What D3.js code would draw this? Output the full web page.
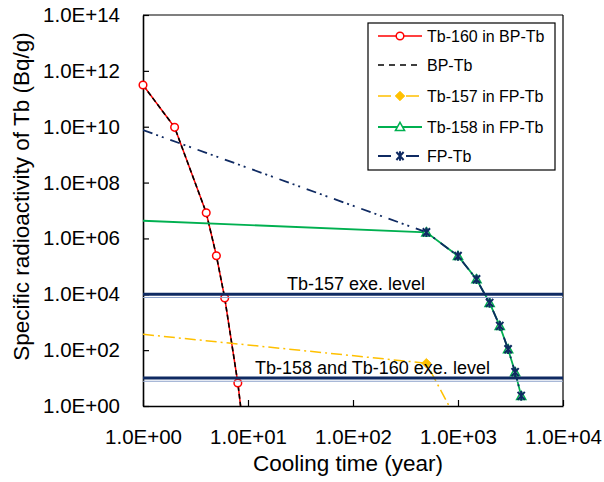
<!DOCTYPE html>
<html>
<head>
<meta charset="utf-8">
<script src="https://cdn.jsdelivr.net/npm/d3@7"></script>
<style>
  html, body { margin: 0; padding: 0; background: #fff; }
  svg { display: block; font-family: "Liberation Sans", Arial, sans-serif; }
</style>
</head>
<body>
<svg id="chart" width="604" height="482"></svg>
<script>
// Cooling time (years) and specific radioactivity (Bq/g) of terbium
const bpYears = [1, 2, 4, 5, 6, 8, 10];
const tb160InBP = [3.1e11, 9.5e9, 8.3e6, 2.4e5, 7.4e3, 6.7, 0.006];
const bpTb = [3.1e11, 9.5e9, 8.3e6, 2.4e5, 7.4e3, 6.7, 0.006];

const tb157Years = [1, 500, 1000, 1500];
const tb157InFP = [370, 34, 0.25, 0.002];

const fpYears = [1, 500, 1000, 1500, 2000, 2500, 3000, 3500, 4000];
const tb158InFP = [4.3e6, 1.66e6, 2.35e5, 3.45e4, 4.9e3, 740, 108, 16.3, 2.3];
const fpTb = [7.6e9, 1.66e6, 2.35e5, 3.45e4, 4.9e3, 740, 108, 16.3, 2.3];

// Exemption levels (Bq/g)
const exemptionLevels = [1e4, 1e1];
const exemptionLabels = ["Tb-157 exe. level", "Tb-158 and Tb-160 exe. level"];

const xTicks = [1e0, 1e1, 1e2, 1e3, 1e4];
const yTicks = [1e0, 1e2, 1e4, 1e6, 1e8, 1e10, 1e12, 1e14];

const legendLabels = ["Tb-160 in BP-Tb", "BP-Tb", "Tb-157 in FP-Tb", "Tb-158 in FP-Tb", "FP-Tb"];

const svg = d3.select("#chart");
const margin = { left: 143, right: 41, top: 15, bottom: 76 };
const W = 604, H = 482;
const pw = W - margin.left - margin.right;
const ph = H - margin.top - margin.bottom;

const x = d3.scaleLog().domain([1, 1e4]).range([0, pw]);
const y = d3.scaleLog().domain([1, 1e14]).range([ph, 0]);

const fmt = v => "1.0E+" + String(Math.round(Math.log10(v))).padStart(2, "0");

const g = svg.append("g").attr("transform", `translate(${margin.left},${margin.top})`);

const defs = svg.append("defs");
defs.append("clipPath").attr("id", "plotClip")
  .append("rect").attr("x", 0).attr("y", 0).attr("width", pw).attr("height", ph);
defs.append("clipPath").attr("id", "markClip")
  .append("rect").attr("x", -8).attr("y", -8).attr("width", pw + 16).attr("height", ph + 8);

// frame: top and right edges
g.append("line").attr("x1", 0).attr("x2", pw).attr("y1", 0).attr("y2", 0)
  .attr("stroke", "#000").attr("stroke-width", 1.2);
g.append("line").attr("x1", pw).attr("x2", pw).attr("y1", 0).attr("y2", ph)
  .attr("stroke", "#000").attr("stroke-width", 1.2);

// axes with inward ticks
const xAxis = d3.axisBottom(x).tickValues(xTicks).tickFormat(fmt)
  .tickSizeInner(-6).tickSizeOuter(0).tickPadding(23);
const yAxis = d3.axisLeft(y).tickValues(yTicks).tickFormat(fmt)
  .tickSizeInner(-6).tickSizeOuter(0).tickPadding(23);

const gx = g.append("g").attr("transform", `translate(0,${ph})`).call(xAxis);
const gy = g.append("g").call(yAxis);
[gx, gy].forEach(a => {
  a.select(".domain").attr("stroke", "#000").attr("stroke-width", 1.6);
  a.selectAll(".tick line").attr("stroke", "#000").attr("stroke-width", 1.2);
  a.selectAll(".tick text").attr("fill", "#000")
    .style("font-size", "20.5px").style("font-family", '"Liberation Sans", Arial, sans-serif');
});

// axis titles
svg.append("text").attr("x", margin.left + pw / 2 - 5).attr("y", 471)
  .attr("text-anchor", "middle").style("font-size", "22.5px").attr("fill", "#000")
  .text("Cooling time (year)");
svg.append("text").attr("transform", "translate(28.5,196.5) rotate(-90)")
  .attr("text-anchor", "middle").style("font-size", "22.5px").attr("fill", "#000")
  .text("Specific radioactivity of Tb (Bq/g)");

const line = d3.line().x(d => x(d[0])).y(d => y(d[1]));
const plot = g.append("g").attr("clip-path", "url(#plotClip)");
const marks = g.append("g").attr("clip-path", "url(#markClip)");

const zip = (a, b) => a.map((t, i) => [t, b[i]]);

// marker symbol drawers
function circleMark(sel, col) {
  sel.append("circle").attr("r", 3.8).attr("fill", "#fff").attr("stroke", col).attr("stroke-width", 1.5);
}
function diamondMark(sel, col) {
  sel.append("path").attr("d", "M0,-4.8L4.8,0L0,4.8L-4.8,0Z").attr("fill", col).attr("stroke", col).attr("stroke-width", 0.8);
}
function triangleMark(sel, col) {
  sel.append("path").attr("d", "M0,-4.6L4.6,3.6L-4.6,3.6Z").attr("fill", "#fff").attr("stroke", col).attr("stroke-width", 1.5);
}
function starMark(sel, col) {
  sel.append("path").attr("d", "M-3.6,-4L3.6,4M-3.6,4L3.6,-4M0,-4.8L0,4.8")
    .attr("fill", "none").attr("stroke", col).attr("stroke-width", 2);
}

const series = [
  { name: legendLabels[0], data: zip(bpYears, tb160InBP), color: "#FF0000", width: 1.5, dash: null, mark: circleMark, skipFirst: false },
  { name: legendLabels[1], data: zip(bpYears, bpTb), color: "#000000", width: 1.6, dash: "5,3", mark: null },
  { name: legendLabels[2], data: zip(tb157Years, tb157InFP), color: "#FFC000", width: 1.5, dash: "11,4,2,4", mark: diamondMark, skipFirst: true },
  { name: legendLabels[3], data: zip(fpYears, tb158InFP), color: "#00B050", width: 1.8, dash: null, mark: triangleMark, skipFirst: true },
  { name: legendLabels[4], data: zip(fpYears, fpTb), color: "#0F2A62", width: 1.8, dash: "10,4,2,4,2,7", mark: starMark, skipFirst: true }
];

series.forEach(s => {
  plot.append("path").datum(s.data).attr("d", line)
    .attr("fill", "none").attr("stroke", s.color).attr("stroke-width", s.width)
    .attr("stroke-dasharray", s.dash);
  if (s.mark) {
    const pts = s.skipFirst ? s.data.slice(1) : s.data;
    marks.selectAll(null).data(pts).enter().append("g")
      .attr("transform", d => `translate(${x(d[0])},${y(d[1])})`)
      .each(function () { s.mark(d3.select(this), s.color); });
  }
});

// exemption level lines
exemptionLevels.forEach(v => {
  g.append("line").attr("x1", 0).attr("x2", pw).attr("y1", y(v)).attr("y2", y(v))
    .attr("stroke", "#0F2A62").attr("stroke-width", 3);
  g.append("line").attr("x1", 0).attr("x2", pw).attr("y1", y(v) + 3.2).attr("y2", y(v) + 3.2)
    .attr("stroke", "#8EA3CC").attr("stroke-width", 1);
});
const labelX = [356, 372.5];
exemptionLevels.forEach((v, i) => {
  svg.append("text").attr("x", labelX[i]).attr("y", margin.top + y(v) - 4.5)
    .attr("text-anchor", "middle").style("font-size", "18px").attr("fill", "#000")
    .text(exemptionLabels[i]);
});

// legend
const lg = svg.append("g").attr("transform", "translate(368,23)");
lg.append("rect").attr("width", 187).attr("height", 147)
  .attr("fill", "#fff").attr("stroke", "#000").attr("stroke-width", 1.2);
const rowY = [13, 42, 73, 104, 133];
series.forEach((s, i) => {
  const row = lg.append("g").attr("transform", `translate(0,${rowY[i]})`);
  row.append("line").attr("x1", 10).attr("x2", 54).attr("y1", 0).attr("y2", 0)
    .attr("stroke", s.color).attr("stroke-width", s.width)
    .attr("stroke-dasharray", s.dash === "5,3" ? "6,5" : (s.dash ? "13,7,2,6" : null));
  if (s.mark) {
    const m = row.append("g").attr("transform", "translate(32,0)");
    if (s.mark === starMark) {
      m.append("rect").attr("x", -6).attr("y", -6).attr("width", 12).attr("height", 12).attr("fill", "#fff");
    }
    s.mark(m, s.color);
  }
  row.append("text").attr("x", 59).attr("y", 5.8).style("font-size", "16px").attr("fill", "#000").text(s.name);
});
</script>
</body>
</html>
